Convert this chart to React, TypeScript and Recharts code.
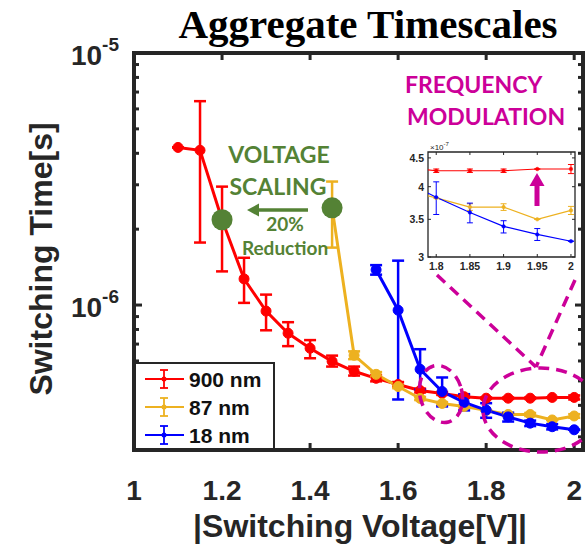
import React from 'react';
import {
  ComposedChart,
  LineChart,
  Line,
  Scatter,
  XAxis,
  YAxis,
  ErrorBar,
  ReferenceArea,
} from 'recharts';

// ---------- data ----------
const X900 = [1.1, 1.15, 1.2, 1.25, 1.3, 1.35, 1.4, 1.45, 1.5, 1.55, 1.6, 1.65, 1.7, 1.75, 1.8, 1.85, 1.9, 1.95, 2.0];
const T900 = [4.22e-6, 4.11e-6, 2.18e-6, 1.27e-6, 9.46e-7, 7.73e-7, 6.74e-7, 5.98e-7, 5.46e-7, 5.12e-7, 4.84e-7, 4.58e-7, 4.46e-7, 4.33e-7, 4.27e-7, 4.27e-7, 4.27e-7, 4.3e-7, 4.3e-7];
const LO900 = [4.22e-6, 1.77e-6, 1.36e-6, 1.02e-6, 7.94e-7, 6.87e-7, 6.15e-7, 5.7e-7, 5.25e-7, 4.98e-7, 4.74e-7, 4.5e-7, 4.4e-7, 4.28e-7, 4.24e-7, 4.24e-7, 4.24e-7, 4.3e-7, 4.22e-7];
const HI900 = [4.22e-6, 6.44e-6, 2.95e-6, 1.54e-6, 1.1e-6, 8.55e-7, 7.26e-7, 6.3e-7, 5.7e-7, 5.27e-7, 4.95e-7, 4.66e-7, 4.52e-7, 4.38e-7, 4.3e-7, 4.3e-7, 4.3e-7, 4.3e-7, 4.38e-7];

const X87 = [1.45, 1.5, 1.55, 1.6, 1.65, 1.7, 1.75, 1.8, 1.85, 1.9, 1.95, 2.0];
const T87 = [2.43e-6, 6.32e-7, 5.31e-7, 4.75e-7, 4.26e-7, 4.07e-7, 3.96e-7, 3.82e-7, 3.68e-7, 3.68e-7, 3.5e-7, 3.63e-7];
const LO87 = [1.69e-6, 6.1e-7, 5.2e-7, 4.68e-7, 4.2e-7, 4.02e-7, 3.92e-7, 3.82e-7, 3.63e-7, 3.63e-7, 3.5e-7, 3.57e-7];
const HI87 = [3.09e-6, 6.55e-7, 5.42e-7, 4.82e-7, 4.32e-7, 4.12e-7, 4.0e-7, 3.82e-7, 3.73e-7, 3.73e-7, 3.5e-7, 3.69e-7];

const X18 = [1.55, 1.6, 1.65, 1.7, 1.75, 1.8, 1.85, 1.9, 1.95, 2.0];
const T18 = [1.38e-6, 9.54e-7, 5.56e-7, 4.54e-7, 4.11e-7, 3.83e-7, 3.6e-7, 3.4e-7, 3.29e-7, 3.2e-7];
const LO18 = [1.32e-6, 4.22e-7, 4.62e-7, 3.96e-7, 3.82e-7, 3.57e-7, 3.45e-7, 3.31e-7, 3.21e-7, 3.2e-7];
const HI18 = [1.44e-6, 1.5e-6, 6.68e-7, 5.16e-7, 4.43e-7, 4.08e-7, 3.74e-7, 3.48e-7, 3.37e-7, 3.2e-7];

const SCALING_X = [1.2, 1.45];
const SCALING_T = [2.18e-6, 2.43e-6];

const SERIES_NAMES = ['900 nm', '87 nm', '18 nm'];
const SERIES_COLORS = ['#FF0000', '#EDB120', '#0000FF'];

const X_TICKS = [1, 1.2, 1.4, 1.6, 1.8, 2];
const X_DOMAIN = [1, 2.02];
const Y_DOMAIN = [2.66e-7, 1e-5];
const Y_TICKS = [3e-7, 4e-7, 5e-7, 6e-7, 7e-7, 8e-7, 9e-7, 1e-6, 2e-6, 3e-6, 4e-6, 5e-6, 6e-6, 7e-6, 8e-6, 9e-6, 1e-5];
const Y_MAJOR = [1e-6, 1e-5];
const Y_MAJOR_EXP = ['-6', '-5'];

const INSET_X_TICKS = [1.8, 1.85, 1.9, 1.95, 2];
const INSET_X_DOMAIN = [1.7878, 2.006];
const INSET_Y_DOMAIN = [3e-7, 4.61e-7];
const INSET_Y_TICKS = [3e-7, 3.5e-7, 4e-7, 4.5e-7];
const INSET_Y_LABELS = ['3', '3.5', '4', '4.5'];

// ---------- tables ----------
const build = (xs: number[], ts: number[], lo: number[], hi: number[]) =>
  xs.map((x, i) => ({ x, t: ts[i], e: [ts[i] - lo[i], hi[i] - ts[i]] }));
const d900 = build(X900, T900, LO900, HI900);
const d87 = build(X87, T87, LO87, HI87);
const d18 = build(X18, T18, LO18, HI18);
const seriesData = [d900, d87, d18];
// points inside the inset's x-range (error bars are not clipped by recharts)
const insetErrData = seriesData.map((d) =>
  d.filter((p) => p.x >= INSET_X_DOMAIN[0] && p.x <= INSET_X_DOMAIN[1])
);
const scalingData = SCALING_X.map((x, i) => ({ x, t: SCALING_T[i] }));

// ---------- layout ----------
const PL = 134, PT = 53, PR = 583, PB = 450;
const AX = '#262626';
const SANS = 'Liberation Sans, Arial, Helvetica, sans-serif';
const GREEN = '#548235';
const MAG = '#CC0099';

const renderXTick = (props: any) => {
  const { x, payload } = props;
  const v = payload.value;
  return (
    <g>
      {v > 1 && <line x1={x} x2={x} y1={PB} y2={PB - 7} stroke={AX} strokeWidth={3} />}
      {v > 1 && <line x1={x} x2={x} y1={PT} y2={PT + 7} stroke={AX} strokeWidth={3} />}
      <text x={x} y={PB + 50} textAnchor="middle" fontFamily={SANS} fontWeight="bold" fontSize={28} fill={AX}>
        {String(v)}
      </text>
    </g>
  );
};

const renderYTick = (props: any) => {
  const { y, payload } = props;
  const v = payload.value;
  const mi = Y_MAJOR.indexOf(v);
  const len = mi >= 0 ? 8 : 5;
  return (
    <g>
      <line x1={PL} x2={PL + len} y1={y} y2={y} stroke={AX} strokeWidth={3} />
      <line x1={PR} x2={PR - len} y1={y} y2={y} stroke={AX} strokeWidth={3} />
      {mi >= 0 && (
        <text x={119} y={y + 12} textAnchor="end" fontFamily={SANS} fontWeight="bold" fontSize={28} fill={AX}>
          <tspan>10</tspan>
          <tspan dy={-14} fontSize={19}>{Y_MAJOR_EXP[mi]}</tspan>
        </text>
      )}
    </g>
  );
};

// inset geometry (local coords)
const IL = 38, IT = 12, IR = 185, IB = 117;

const renderInsetXTick = (props: any) => {
  const { x, payload } = props;
  return (
    <g>
      <line x1={x} x2={x} y1={IB} y2={IB - 3} stroke={AX} strokeWidth={1} />
      <line x1={x} x2={x} y1={IT} y2={IT + 3} stroke={AX} strokeWidth={1} />
      <text x={x} y={IB + 13} textAnchor="middle" fontFamily={SANS} fontWeight="bold" fontSize={10.5} fill={AX}>
        {String(payload.value)}
      </text>
    </g>
  );
};

const renderInsetYTick = (props: any) => {
  const { y, payload, index } = props;
  return (
    <g>
      <line x1={IL} x2={IL + 3} y1={y} y2={y} stroke={AX} strokeWidth={1} />
      <line x1={IR} x2={IR - 3} y1={y} y2={y} stroke={AX} strokeWidth={1} />
      <text x={IL - 4} y={y + 4} textAnchor="end" fontFamily={SANS} fontWeight="bold" fontSize={10.5} fill={AX}>
        {INSET_Y_LABELS[INSET_Y_TICKS.indexOf(payload.value)] ?? index}
      </text>
    </g>
  );
};

const greenDot = (p: any) => <circle cx={p.cx} cy={p.cy} r={10.5} fill={GREEN} />;

export default function App() {
  return (
    <div style={{ position: 'absolute', left: 0, top: 0, width: 585, height: 547, background: '#fff' }}>
      <ComposedChart width={585} height={547} margin={{ top: PT, right: 585 - PR, bottom: 0, left: 0 }}>
        <XAxis
          type="number"
          dataKey="x"
          domain={X_DOMAIN}
          ticks={X_TICKS}
          interval={0}
          allowDataOverflow
          height={547 - PB}
          tick={renderXTick}
          tickLine={false}
          axisLine={false}
          tickSize={0}
          tickMargin={0}
        />
        <YAxis
          type="number"
          scale="log"
          domain={Y_DOMAIN}
          ticks={Y_TICKS}
          interval={0}
          allowDataOverflow
          width={PL}
          tick={renderYTick}
          tickLine={false}
          axisLine={false}
          tickSize={0}
          tickMargin={0}
        />
        <ReferenceArea
          x1={X_DOMAIN[0]}
          x2={X_DOMAIN[1]}
          y1={Y_DOMAIN[0]}
          y2={Y_DOMAIN[1]}
          fill="none"
          fillOpacity={0}
          stroke={AX}
          strokeWidth={4}
          ifOverflow="visible"
        />
        {seriesData.map((d, i) => (
          <Line
            key={SERIES_NAMES[i]}
            data={d}
            dataKey="t"
            stroke={SERIES_COLORS[i]}
            strokeWidth={3}
            dot={{ r: 5, fill: SERIES_COLORS[i], stroke: SERIES_COLORS[i], strokeWidth: 1 }}
            isAnimationActive={false}
          >
            <ErrorBar dataKey="e" width={6} strokeWidth={2.5} stroke={SERIES_COLORS[i]} direction="y" />
          </Line>
        ))}
        <Scatter data={scalingData} dataKey="t" shape={greenDot} isAnimationActive={false} />
      </ComposedChart>

      {/* inset */}
      <div style={{ position: 'absolute', left: 390, top: 140 }}>
        <LineChart width={195} height={140} margin={{ top: IT, right: 195 - IR, bottom: 0, left: 0 }}>
          <ReferenceArea
            x1={INSET_X_DOMAIN[0]}
            x2={INSET_X_DOMAIN[1]}
            y1={INSET_Y_DOMAIN[0]}
            y2={INSET_Y_DOMAIN[1]}
            fill="#fff"
            fillOpacity={1}
            stroke={AX}
            strokeWidth={1.3}
            ifOverflow="visible"
          />
          <XAxis
            type="number"
            dataKey="x"
            domain={INSET_X_DOMAIN}
            ticks={INSET_X_TICKS}
            interval={0}
            allowDataOverflow
            height={140 - IB}
            tick={renderInsetXTick}
            tickLine={false}
            axisLine={false}
            tickSize={0}
            tickMargin={0}
          />
          <YAxis
            type="number"
            scale="log"
            domain={INSET_Y_DOMAIN}
            ticks={INSET_Y_TICKS}
            interval={0}
            allowDataOverflow
            width={IL}
            tick={renderInsetYTick}
            tickLine={false}
            axisLine={false}
            tickSize={0}
            tickMargin={0}
          />
          {seriesData.map((d, i) => (
            <Line
              key={SERIES_NAMES[i]}
              data={d}
              dataKey="t"
              stroke={SERIES_COLORS[i]}
              strokeWidth={1.2}
              dot={{ r: 1.8, fill: SERIES_COLORS[i], stroke: SERIES_COLORS[i], strokeWidth: 0.5 }}
              isAnimationActive={false}
            />
          ))}
          {insetErrData.map((d, i) => (
            <Line
              key={'err-' + SERIES_NAMES[i]}
              data={d}
              dataKey="t"
              stroke="none"
              dot={false}
              activeDot={false}
              isAnimationActive={false}
            >
              <ErrorBar dataKey="e" width={3} strokeWidth={1} stroke={SERIES_COLORS[i]} direction="y" />
            </Line>
          ))}
        </LineChart>
      </div>

      {/* overlay: titles, legend, annotations */}
      <svg width={585} height={547} style={{ position: 'absolute', left: 0, top: 0, pointerEvents: 'none' }}>
        <text x={368} y={38} textAnchor="middle" fontFamily="Liberation Serif, Times New Roman, serif" fontWeight="bold" fontSize={41} fill="#000">
          Aggregate Timescales
        </text>
        <text transform="translate(52,259) rotate(-90)" textAnchor="middle" fontFamily={SANS} fontWeight="bold" fontSize={32} fill={AX}>
          Switching Time[s]
        </text>
        <text x={360} y={537} textAnchor="middle" fontFamily={SANS} fontWeight="bold" fontSize={32} fill={AX}>
          |Switching Voltage[V]|
        </text>

        {/* inset exponent */}
        <text x={430} y={150} fontFamily={SANS} fontSize={8} fill={AX}>
          <tspan>×10</tspan>
          <tspan dy={-4} fontSize={6}>-7</tspan>
        </text>

        {/* legend */}
        <rect x={PL} y={363} width={140} height={PB - 363} fill="#fff" stroke={AX} strokeWidth={2} />
        <line x1={PL} x2={PL} y1={360} y2={PB} stroke={AX} strokeWidth={4} />
        <line x1={PL} x2={276} y1={PB} y2={PB} stroke={AX} strokeWidth={4} />
        {SERIES_NAMES.map((n, i) => {
          const y = 379 + i * 28;
          const c = SERIES_COLORS[i];
          return (
            <g key={n}>
              <line x1={145} x2={184} y1={y} y2={y} stroke={c} strokeWidth={2} />
              <line x1={164} x2={164} y1={y - 9} y2={y + 9} stroke={c} strokeWidth={1.8} />
              <line x1={160} x2={168} y1={y - 9} y2={y - 9} stroke={c} strokeWidth={1.8} />
              <line x1={160} x2={168} y1={y + 9} y2={y + 9} stroke={c} strokeWidth={1.8} />
              <circle cx={164} cy={y} r={2.5} fill={c} />
              <text x={189} y={y + 8} fontFamily={SANS} fontWeight="bold" fontSize={21} fill="#111">
                {n}
              </text>
            </g>
          );
        })}

        {/* voltage scaling annotation */}
        <g fontFamily="Lato, Open Sans, sans-serif" fontWeight="bold" fill={GREEN} textAnchor="middle">
          <text x={279} y={163} fontSize={23}>VOLTAGE</text>
          <text x={278} y={195} fontSize={23}>SCALING</text>
          <text x={285} y={231} fontSize={19}>20%</text>
          <text x={285} y={255} fontSize={19}>Reduction</text>
        </g>
        <line x1={308} x2={257} y1={210} y2={210} stroke={GREEN} strokeWidth={3.5} />
        <polygon points="247,210 259,203.5 259,216.5" fill={GREEN} />

        {/* frequency modulation annotation */}
        <g fontFamily="Lato, Open Sans, sans-serif" fontWeight="bold" fill={MAG}>
          <text x={405} y={93} fontSize={23}>FREQUENCY</text>
          <text x={407} y={125} fontSize={23}>MODULATION</text>
        </g>
        <rect x={534.5} y={184} width={5} height={22} fill={MAG} />
        <polygon points="537,173 529.5,186 544.5,186" fill={MAG} />

        <g fill="none" stroke={MAG} strokeWidth={3.5} strokeDasharray="11 7">
          <ellipse cx={441} cy={394} rx={21} ry={29} transform="rotate(-15 441 394)" />
          <ellipse cx={541} cy={410} rx={58} ry={42} />
          <line x1={437} y1={275} x2={536} y2={367} />
          <line x1={575} y1={280} x2={536} y2={367} />
        </g>
      </svg>
    </div>
  );
}
